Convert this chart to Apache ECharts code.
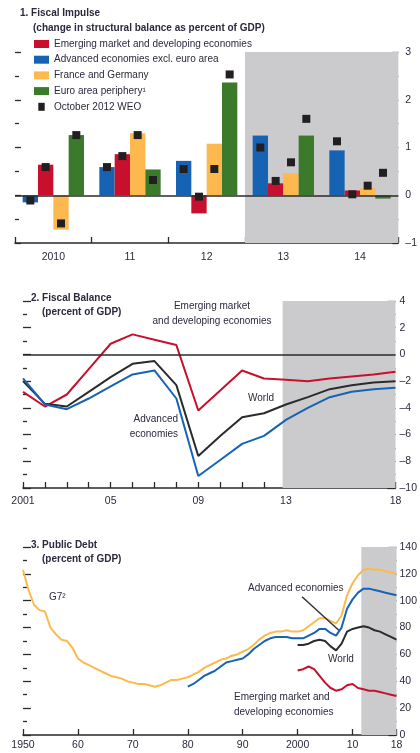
<!DOCTYPE html>
<html>
<head>
<meta charset="utf-8">
<script src="https://cdn.jsdelivr.net/npm/echarts@6/dist/echarts.min.js"></script>
<style>
  html, body { margin: 0; padding: 0; background: #ffffff; }
  #chart { width: 420px; height: 753px; }
</style>
</head>
<body>
<div id="chart"></div>
<script>
// ---- Panel 1: Fiscal impulse (change in structural balance, % of GDP) ----
const fiCategories = ['2010', '11', '12', '13', '14'];
const fiAdvanced = [-0.15, 0.59, 0.72, 1.25, 0.94];
const fiEmerging = [0.64, 0.86, -0.38, 0.25, 0.10];
const fiFranceGermany = [-0.72, 1.30, 1.08, 0.46, 0.15];
const fiPeriphery = [1.26, 0.54, 2.36, 1.25, -0.07];
// October 2012 WEO estimates, same group order as the bars
const weoAdvanced = [-0.11, 0.59, 0.55, 1.00, 1.13];
const weoEmerging = [0.59, 0.82, -0.03, 0.30, 0.02];
const weoFranceGermany = [-0.59, 1.26, 0.55, 0.69, 0.20];
const weoPeriphery = [1.26, 0.32, 2.53, 1.60, 0.47];
const fiProjectionFrom = 3;   // index of first projected category ('13')

// ---- Panel 2: Fiscal balance (% of GDP), 2001-18 ----
const fbYears = [2001, 2002, 2003, 2004, 2005, 2006, 2007, 2008, 2009, 2010, 2011, 2012, 2013, 2014, 2015, 2016, 2017, 2018];
const fbEmerging = [-2.8, -3.9, -3.0, -1.1, 0.8, 1.5, 1.1, 0.7, -4.2, -2.7, -1.2, -1.8, -1.9, -2.0, -1.8, -1.65, -1.5, -1.3];
const fbWorld = [-2.0, -3.7, -3.9, -2.8, -1.7, -0.7, -0.5, -2.3, -7.6, -6.1, -4.7, -4.4, -3.75, -3.2, -2.6, -2.3, -2.1, -2.0];
const fbAdvanced = [-1.8, -3.75, -4.1, -3.3, -2.4, -1.5, -1.2, -3.3, -9.1, -7.9, -6.7, -6.1, -4.9, -4.0, -3.2, -2.8, -2.6, -2.5];
const fbLabelYears = [2001, 2005, 2009, 2013, 2018];
const fbLabelText = ['2001', '05', '09', '13', '18'];
const fbProjectionStart = 2012.85;

// ---- Panel 3: Public debt (% of GDP) ----
const pdG7Start = 1950;
const pdG7 = [123, 108, 97, 93, 92, 80, 75, 71, 70, 65,
              57, 54, 52, 50, 48, 46, 44, 43, 42, 40,
              39, 38, 38, 37, 36, 37, 39, 41, 41, 42,
              43, 45, 47, 50, 52, 54, 56, 57, 59, 60,
              62, 64, 67, 71, 74, 76, 77, 77, 78, 77,
              77, 78, 81, 84, 87, 87, 85, 83, 89, 104,
              113, 119, 123, 124, 123, 123, 122, 121, 120];
const pdAdvancedStart = 1980;
const pdAdvanced = [36, 38, 41, 44, 46, 48, 51, 54, 55, 56,
                    57, 60, 64, 67, 70, 72, 73, 73, 73, 72,
                    72, 72, 74, 76, 79, 79, 76, 74, 80, 94,
                    101, 106, 109, 109, 108, 107, 106, 105, 104];
const pdWorldStart = 2000;
const pdWorld = [67, 67, 68, 70, 71, 70, 66, 63, 68, 77, 79, 80, 81, 80, 78, 77, 75, 73, 71];
const pdEmergingStart = 2000;
const pdEmerging = [48, 49, 51, 49, 44, 39, 35, 33, 34, 37, 38, 35, 34, 33, 33, 32, 31, 30, 29];
const pdLabelYears = [1950, 1960, 1970, 1980, 1990, 2000, 2010, 2018];
const pdLabelText = ['1950', '60', '70', '80', '90', '2000', '10', '18'];
const pdProjectionStart = 2011.6;
// leader from the "Advanced economies" note to the 2007 dip
const pdLeader = [[2000.8, 103], [2007.5, 78]];

// ---- Styling ----
const FONT = "'Liberation Sans', Arial, sans-serif";
const TXT = '#2b2a3c';
const AXIS = '#2a2a2a';
const RED = '#c8102e';
const BLUE = '#1763b3';
const YELLOW = '#fdb94e';
const GREEN = '#3a7a2a';
const BLACK = '#231f20';
const SHADE = '#cbcbcd';

const series = (start, vals) => vals.map((v, i) => [start + i, v]);
const zip = (xs, ys) => xs.map((x, i) => [x, ys[i]]);
const signed = v => (v < 0 ? '\u2013' + Math.abs(v) : String(v));

function leftY(grid, min, max, interval, len, minorLen) {
  return {
    gridIndex: grid, type: 'value', min, max, interval, position: 'left',
    axisLine: { show: false },
    axisTick: { show: true, inside: true, length: len, lineStyle: { color: AXIS, width: 1.3 } },
    minorTick: { show: true, splitNumber: 2, length: minorLen, lineStyle: { color: AXIS, width: 1.3 } },
    axisLabel: { show: false },
    splitLine: { show: false }, minorSplitLine: { show: false }
  };
}
function rightY(grid, min, max, interval, len, minorLen, margin) {
  const a = leftY(grid, min, max, interval, len, minorLen);
  a.position = 'right';
  a.axisLabel = { show: true, margin, color: TXT, fontFamily: FONT, fontSize: 10.5, formatter: signed };
  return a;
}
function bottomX(label) {
  return {
    axisLine: { show: true, onZero: false, lineStyle: { color: AXIS, width: 1.6 } },
    axisTick: { show: true, inside: true, length: 6, lineStyle: { color: AXIS, width: 1.3 } },
    axisLabel: Object.assign({ color: TXT, fontFamily: FONT, fontSize: 10.5 }, label),
    splitLine: { show: false }
  };
}

// WEO markers: one square per bar, centred on its bar slot
const weoSets = [weoAdvanced, weoEmerging, weoFranceGermany, weoPeriphery];
const weoData = [];
weoSets.forEach((arr, k) => arr.forEach((v, i) => weoData.push([i, v, k])));
const barGroupShare = 0.8;   // 1 - barCategoryGap

function text(x, y, str, opts) {
  return {
    type: 'text', x, y, silent: true, z: 20,
    style: Object.assign({
      text: str, fill: TXT, font: '10px ' + FONT, align: 'left', verticalAlign: 'middle'
    }, opts || {})
  };
}
const bold = { font: 'bold 10px ' + FONT };

const chart = echarts.init(document.getElementById('chart'), null, { renderer: 'canvas' });

const option = {
  backgroundColor: '#ffffff',
  animation: false,
  grid: [
    { left: 15, right: 15, top: 52, bottom: 510 },
    { left: 23, right: 21, top: 301, bottom: 265 },
    { left: 23, right: 20, top: 547, bottom: 18 }
  ],
  legend: {
    orient: 'vertical', left: 34, top: 38, padding: 0,
    itemWidth: 15, itemHeight: 8, itemGap: 3.7,
    selectedMode: false,
    textStyle: { color: TXT, fontFamily: FONT, fontSize: 10, lineHeight: 12 },
    data: [
      { name: 'Emerging market and developing economies', icon: 'rect' },
      { name: 'Advanced economies excl. euro area', icon: 'rect' },
      { name: 'France and Germany', icon: 'rect' },
      { name: 'Euro area periphery\u00b9', icon: 'rect' },
      { name: 'October 2012 WEO', icon: 'path://M0,0 H8 V10 H0 Z' }
    ]
  },
  xAxis: [
    Object.assign({ gridIndex: 0, type: 'category', data: fiCategories }, bottomX({ margin: 9 })),
    { gridIndex: 0, type: 'value', min: 0, max: fiCategories.length, show: false },
    Object.assign({ gridIndex: 1, type: 'value', min: fbYears[0], max: fbYears[fbYears.length - 1], interval: 1 },
      bottomX({
        margin: 8,
        formatter: v => { const i = fbLabelYears.indexOf(v); return i < 0 ? '' : fbLabelText[i]; }
      })),
    Object.assign({ gridIndex: 2, type: 'value', min: pdLabelYears[0], max: pdLabelYears[pdLabelYears.length - 1], interval: 10 },
      bottomX({
        margin: 5,
        formatter: v => { const i = pdLabelYears.indexOf(v); return i < 0 ? '' : pdLabelText[i]; }
      }))
  ],
  yAxis: [
    leftY(0, -1, 3, 1, 6, 4),
    rightY(0, -1, 3, 1, 6, 4, 7),
    leftY(1, -10, 4, 2, 8, 4),
    rightY(1, -10, 4, 2, 8, 4, 4),
    leftY(2, 0, 140, 20, 8, 4),
    rightY(2, 0, 140, 20, 8, 4, 3)
  ],
  series: [
    // panel 1 projection shading
    {
      type: 'line', xAxisIndex: 1, yAxisIndex: 0, data: [], z: 1, silent: true,
      markArea: { silent: true, itemStyle: { color: SHADE }, data: [[{ xAxis: fiProjectionFrom }, { xAxis: fiCategories.length }]] }
    },
    {
      name: 'Advanced economies excl. euro area', type: 'bar', xAxisIndex: 0, yAxisIndex: 0,
      data: fiAdvanced, itemStyle: { color: BLUE }, barGap: '0%', barCategoryGap: '20%', z: 3,
      markLine: {
        silent: true, symbol: 'none', label: { show: false },
        lineStyle: { color: AXIS, width: 1.5, type: 'solid' }, data: [{ yAxis: 0 }]
      }
    },
    { name: 'Emerging market and developing economies', type: 'bar', xAxisIndex: 0, yAxisIndex: 0,
      data: fiEmerging, itemStyle: { color: RED }, barGap: '0%', barCategoryGap: '20%', z: 3 },
    { name: 'France and Germany', type: 'bar', xAxisIndex: 0, yAxisIndex: 0,
      data: fiFranceGermany, itemStyle: { color: YELLOW }, barGap: '0%', barCategoryGap: '20%', z: 3 },
    { name: 'Euro area periphery\u00b9', type: 'bar', xAxisIndex: 0, yAxisIndex: 0,
      data: fiPeriphery, itemStyle: { color: GREEN }, barGap: '0%', barCategoryGap: '20%', z: 3 },
    {
      name: 'October 2012 WEO', type: 'custom', xAxisIndex: 0, yAxisIndex: 0, z: 6,
      itemStyle: { color: BLACK },
      encode: { x: 0, y: 1 },
      data: weoData,
      renderItem: (params, api) => {
        const p = api.coord([api.value(0), api.value(1)]);
        const band = api.size([1, 0])[0];
        const slot = band * barGroupShare / weoSets.length;
        const cx = p[0] - band * barGroupShare / 2 + slot * (api.value(2) + 0.5);
        return { type: 'rect', shape: { x: cx - 4, y: p[1] - 4, width: 8, height: 8 }, style: { fill: BLACK } };
      }
    },

    // panel 2
    {
      type: 'line', xAxisIndex: 2, yAxisIndex: 2, data: [], z: 1, silent: true,
      markArea: { silent: true, itemStyle: { color: SHADE }, data: [[{ xAxis: fbProjectionStart }, { xAxis: fbYears[fbYears.length - 1] }]] }
    },
    {
      name: 'fb-emerging', type: 'line', xAxisIndex: 2, yAxisIndex: 2, data: zip(fbYears, fbEmerging),
      showSymbol: false, lineStyle: { color: RED, width: 2 }, itemStyle: { color: RED }, z: 4,
      markLine: {
        silent: true, symbol: 'none', label: { show: false },
        lineStyle: { color: AXIS, width: 1.5, type: 'solid' }, data: [{ yAxis: 0 }]
      }
    },
    { name: 'fb-world', type: 'line', xAxisIndex: 2, yAxisIndex: 2, data: zip(fbYears, fbWorld),
      showSymbol: false, lineStyle: { color: '#2b2b2b', width: 2 }, itemStyle: { color: '#2b2b2b' }, z: 4 },
    { name: 'fb-advanced', type: 'line', xAxisIndex: 2, yAxisIndex: 2, data: zip(fbYears, fbAdvanced),
      showSymbol: false, lineStyle: { color: BLUE, width: 2 }, itemStyle: { color: BLUE }, z: 4 },

    // panel 3
    {
      type: 'line', xAxisIndex: 3, yAxisIndex: 4, data: [], z: 1, silent: true,
      markArea: { silent: true, itemStyle: { color: SHADE }, data: [[{ xAxis: pdProjectionStart }, { xAxis: pdLabelYears[pdLabelYears.length - 1] }]] }
    },
    { name: 'pd-g7', type: 'line', xAxisIndex: 3, yAxisIndex: 4, data: series(pdG7Start, pdG7),
      showSymbol: false, lineStyle: { color: YELLOW, width: 2 }, itemStyle: { color: YELLOW }, z: 4 },
    {
      name: 'pd-advanced', type: 'line', xAxisIndex: 3, yAxisIndex: 4, data: series(pdAdvancedStart, pdAdvanced),
      showSymbol: false, lineStyle: { color: BLUE, width: 2 }, itemStyle: { color: BLUE }, z: 4,
      markLine: {
        silent: true, symbol: 'none', label: { show: false },
        lineStyle: { color: '#333', width: 1.5, type: 'solid' },
        data: [[{ coord: pdLeader[0] }, { coord: pdLeader[1] }]]
      }
    },
    { name: 'pd-world', type: 'line', xAxisIndex: 3, yAxisIndex: 4, data: series(pdWorldStart, pdWorld),
      showSymbol: false, lineStyle: { color: '#2b2b2b', width: 2 }, itemStyle: { color: '#2b2b2b' }, z: 4 },
    { name: 'pd-emerging', type: 'line', xAxisIndex: 3, yAxisIndex: 4, data: series(pdEmergingStart, pdEmerging),
      showSymbol: false, lineStyle: { color: RED, width: 2 }, itemStyle: { color: RED }, z: 4 }
  ],
  graphic: [
    text(20, 13, '1. Fiscal Impulse', bold),
    text(33, 28, '(change in structural balance as percent of GDP)', bold),

    text(31, 298, '2. Fiscal Balance', bold),
    text(42, 312, '(percent of GDP)', bold),
    text(212, 306, 'Emerging market', { align: 'center' }),
    text(212, 321, 'and developing economies', { align: 'center' }),
    text(261, 398, 'World', { align: 'center' }),
    text(178, 419, 'Advanced', { align: 'right' }),
    text(178, 434, 'economies', { align: 'right' }),

    text(31, 545, '3. Public Debt', bold),
    text(42, 559, '(percent of GDP)', bold),
    text(49, 597, 'G7\u00b2'),
    text(248, 588, 'Advanced economies'),
    text(328, 659, 'World'),
    text(234, 697, 'Emerging market and'),
    text(234, 712, 'developing economies')
  ]
};

chart.setOption(option);
</script>
</body>
</html>
